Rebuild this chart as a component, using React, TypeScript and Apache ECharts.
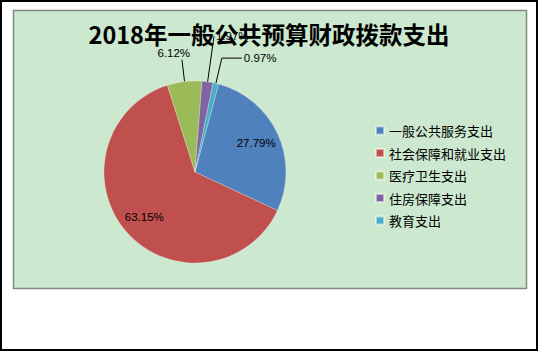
import React, { useEffect, useRef } from "react";
import * as echarts from "echarts";

const titleText = "2018年一般公共预算财政拨款支出";
const categories = ["一般公共服务支出", "社会保障和就业支出", "医疗卫生支出", "住房保障支出", "教育支出"];
const values = [27.79, 63.15, 6.12, 1.97, 0.97];
const colors = ["#4F81BD", "#C0504D", "#9BBB59", "#8064A2", "#4BACC6"];

export default function App() {
  const ref = useRef<HTMLDivElement>(null);
  useEffect(() => {
    document.body.style.margin = "0";
    const chart = echarts.init(ref.current!, null, { renderer: "svg" });
    const fmt = (p: any) => p.value.toFixed(2) + "%";
    const fmtRaised = (p: any) => p.value.toFixed(2) + "%\n ";
    const labelFont = { color: "#000", fontSize: 11.5, fontFamily: "Liberation Sans" };
    const lineCfg: Record<number, { length: number; length2: number }> = {
      2: { length: 22, length2: 0 },
      3: { length: 46, length2: 0 },
      4: { length: 26, length2: 20 },
    };
    const labelExtra: Record<number, any> = {
      2: { distanceToLabelLine: -8, formatter: fmtRaised, lineHeight: 14 },
      3: { distanceToLabelLine: 2, formatter: fmt },
      4: { distanceToLabelLine: 2, formatter: fmt },
    };
    const mainData = categories.map((name, i) => ({
      name,
      value: values[i],
      itemStyle: { color: colors[i] },
      label: i < 2 ? { show: false } : { show: true, position: "outside", ...labelFont, ...labelExtra[i] },
      labelLine:
        i < 2
          ? { show: false }
          : { show: true, ...lineCfg[i], lineStyle: { color: "#000", width: 1 } },
    }));
    const overlayData = categories.map((name, i) => ({
      name,
      value: values[i],
      itemStyle: { color: "rgba(0,0,0,0)", borderWidth: 0 },
      label: i < 2 ? { show: true, position: "inside", formatter: fmt, ...labelFont } : { show: false },
      labelLine: { show: false },
    }));
    chart.setOption({
      animation: false,
      backgroundColor: "#ffffff",
      graphic: [
        { type: "rect", z: -10, shape: { x: 1, y: 1, width: 536, height: 349 }, style: { fill: "#fff", stroke: "#000", lineWidth: 2 } },
        { type: "rect", z: -9, shape: { x: 13.5, y: 10.5, width: 513, height: 278 }, style: { fill: "#CCE8CF", stroke: "#7F8A80", lineWidth: 1.5 } },
      ],
      title: {
        text: titleText,
        left: "center",
        top: 17,
        textStyle: { fontSize: 23.5, fontWeight: "bold", color: "#000", fontFamily: "Noto Sans CJK SC" },
      },
      legend: {
        orient: "vertical",
        left: 370,
        top: 119,
        itemWidth: 8,
        itemHeight: 8,
        itemGap: 9.5,
        icon: "rect",
        textStyle: { fontSize: 13, color: "#000", fontFamily: "Noto Sans CJK SC" },
        data: categories,
      },
      series: [
        {
          type: "pie",
          center: [195, 172],
          radius: 91,
          startAngle: 75,
          clockwise: true,
          avoidLabelOverlap: false,
          itemStyle: { borderColor: "rgba(255,255,255,0.5)", borderWidth: 0.5 },
          emphasis: { disabled: true },
          data: mainData,
        },
        {
          type: "pie",
          center: [195, 172],
          radius: [38, 91],
          startAngle: 75,
          clockwise: true,
          silent: true,
          avoidLabelOverlap: false,
          emphasis: { disabled: true },
          data: overlayData,
        },
      ],
    });
    return () => chart.dispose();
  }, []);
  return <div ref={ref} style={{ position: "fixed", left: 0, top: 0, width: 538, height: 351 }} />;
}
